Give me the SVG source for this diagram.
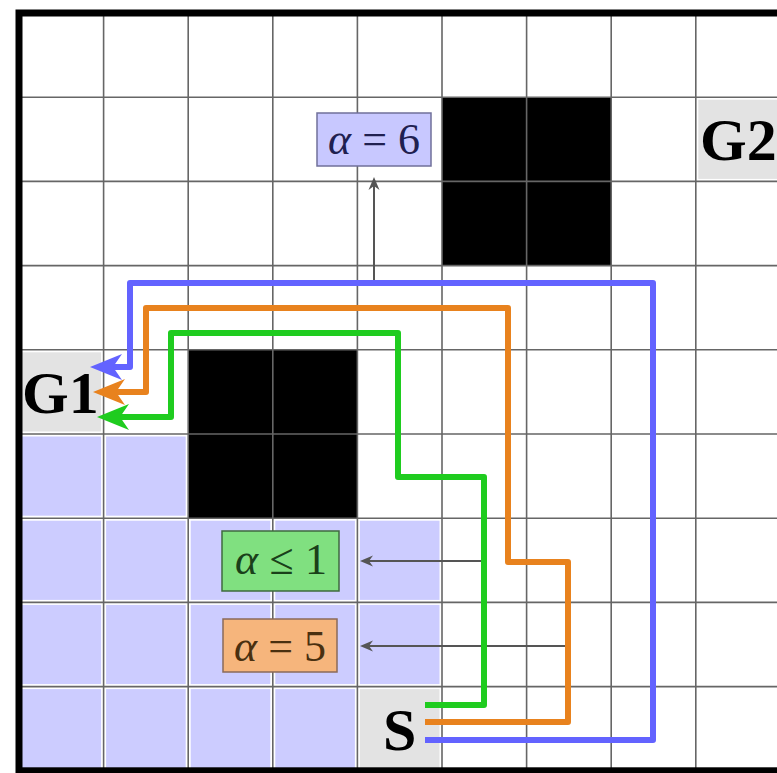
<svg xmlns="http://www.w3.org/2000/svg" width="777" height="773" viewBox="0 0 777 773">
<defs>
<style>
.lav{fill:#ccccff}
.gry{fill:#e3e3e3}
.blk{fill:#000}
.grid{stroke:#666;stroke-width:1.6;fill:none}
.path{fill:none;stroke-width:6;stroke-linejoin:round}
.ptr{fill:none;stroke:#555;stroke-width:2}
.lbl{font-family:"Liberation Serif",serif;font-size:44px;text-anchor:middle}
.big{font-family:"Liberation Serif",serif;font-size:60px;font-weight:bold;fill:#000}
</style>
<marker id="hb" markerUnits="userSpaceOnUse" orient="auto" refX="-20" refY="0" markerWidth="40" markerHeight="30" viewBox="-34 -15 40 30" overflow="visible"><path d="M0,0 L-32,-13 L-23,0 L-32,13 Z" fill="#6363ff"/></marker>
<marker id="ho" markerUnits="userSpaceOnUse" orient="auto" refX="-20" refY="0" markerWidth="40" markerHeight="30" viewBox="-34 -15 40 30" overflow="visible"><path d="M0,0 L-32,-13 L-23,0 L-32,13 Z" fill="#e8821e"/></marker>
<marker id="hg" markerUnits="userSpaceOnUse" orient="auto" refX="-20" refY="0" markerWidth="40" markerHeight="30" viewBox="-34 -15 40 30" overflow="visible"><path d="M0,0 L-32,-13 L-23,0 L-32,13 Z" fill="#1fcc1f"/></marker>
<marker id="hp" markerUnits="userSpaceOnUse" orient="auto" refX="-4" refY="0" markerWidth="20" markerHeight="14" viewBox="-14 -7 20 14" overflow="visible"><path d="M0,0 L-13,-5.5 L-9,0 L-13,5.5 Z" fill="#555"/></marker>
</defs>
<rect x="0" y="0" width="777" height="773" fill="#fff"/>
<g id="cells">
<rect class="lav" x="21.5" y="436.5" width="79.6" height="79.2"/>
<rect class="lav" x="106.1" y="436.5" width="79.6" height="79.2"/>
<rect class="lav" x="21.5" y="520.7" width="79.6" height="79.2"/>
<rect class="lav" x="106.1" y="520.7" width="79.6" height="79.2"/>
<rect class="lav" x="190.7" y="520.7" width="79.6" height="79.2"/>
<rect class="lav" x="275.3" y="520.7" width="79.6" height="79.2"/>
<rect class="lav" x="359.9" y="520.7" width="79.6" height="79.2"/>
<rect class="lav" x="21.5" y="604.9" width="79.6" height="79.2"/>
<rect class="lav" x="106.1" y="604.9" width="79.6" height="79.2"/>
<rect class="lav" x="190.7" y="604.9" width="79.6" height="79.2"/>
<rect class="lav" x="275.3" y="604.9" width="79.6" height="79.2"/>
<rect class="lav" x="359.9" y="604.9" width="79.6" height="79.2"/>
<rect class="lav" x="21.5" y="689.1" width="79.6" height="79.2"/>
<rect class="lav" x="106.1" y="689.1" width="79.6" height="79.2"/>
<rect class="lav" x="190.7" y="689.1" width="79.6" height="79.2"/>
<rect class="lav" x="275.3" y="689.1" width="79.6" height="79.2"/>
<rect class="gry" x="21.5" y="352.3" width="79.6" height="79.2"/>
<rect class="gry" x="359.9" y="689.1" width="79.6" height="79.2"/>
<rect class="gry" x="698.3" y="99.7" width="79.6" height="79.2"/>
</g>
<g id="obstacles">
<rect class="blk" x="442" y="97.2" width="169.2" height="168.4"/>
<rect class="blk" x="188.2" y="349.8" width="169.2" height="168.4"/>
</g>
<g id="grid" class="grid">
<path d="M103.6,13V771M188.2,13V771M272.8,13V771M357.4,13V771M442,13V771M526.6,13V771M611.2,13V771M695.8,13V771"/>
<path d="M19,97.2H784M19,181.4H784M19,265.6H784M19,349.8H784M19,434H784M19,518.2H784M19,602.4H784M19,686.6H784"/>
</g>
<rect id="border" x="19" y="13" width="765" height="757.8" fill="none" stroke="#000" stroke-width="7"/>
<g id="connectors">
<path class="ptr" d="M374,283V181" marker-end="url(#hp)"/>
<path class="ptr" d="M483,561H364" marker-end="url(#hp)"/>
<path class="ptr" d="M568,646H364" marker-end="url(#hp)"/>
<path class="path" stroke="#6363ff" d="M425,740H653V283H130V367H110" marker-end="url(#hb)"/>
<path class="path" stroke="#e8821e" d="M425,722H568V562H508V308H146V392H113" marker-end="url(#ho)"/>
<path class="path" stroke="#1fcc1f" d="M425,705H484V477H398V333H171V417H117" marker-end="url(#hg)"/>
</g>
<g id="label-a6">
<rect x="317" y="113" width="114" height="53" fill="#c8c8ff" stroke="#70709a" stroke-width="1.5"/>
<text class="lbl" x="374" y="154" fill="#202050" textLength="92" lengthAdjust="spacing"><tspan font-style="italic">α</tspan>=6</text>
</g>
<g id="label-a1">
<rect x="222" y="531" width="117" height="60" fill="#80e080" stroke="#3f6a3f" stroke-width="1.5"/>
<text class="lbl" x="281" y="574" fill="#1a401a" textLength="92" lengthAdjust="spacing"><tspan font-style="italic">α</tspan>≤1</text>
</g>
<g id="label-a5">
<rect x="223" y="619" width="114" height="53" fill="#f6b57c" stroke="#8a6a5a" stroke-width="1.5"/>
<text class="lbl" x="280" y="661" fill="#4a3010" textLength="92" lengthAdjust="spacing"><tspan font-style="italic">α</tspan>=5</text>
</g>
<g id="G1"><text class="big" x="22" y="413">G1</text></g>
<g id="G2"><text class="big" x="700" y="160">G2</text></g>
<g id="S"><text class="big" x="383" y="750">S</text></g>
</svg>
